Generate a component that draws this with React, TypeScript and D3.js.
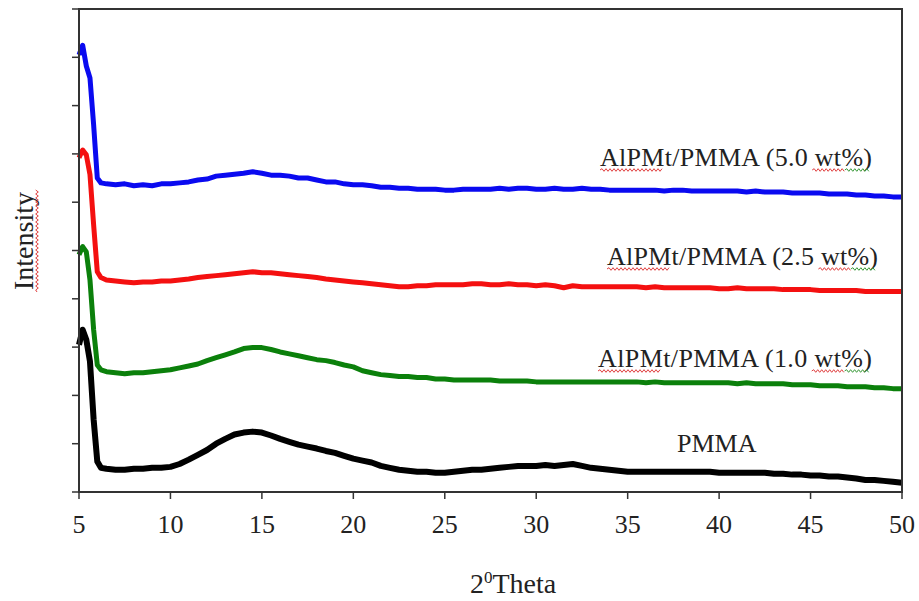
import React from "react";
import * as d3 from "d3";

// 2-theta positions (deg) shared by all patterns
const theta = [
  5, 5.2, 5.4, 5.6, 5.8, 6, 6.2, 6.5,
  7, 7.5, 8, 8.5, 9, 9.5, 10, 10.5, 11, 11.5,
  12, 12.5, 13, 13.5, 14, 14.5, 15, 15.5, 16, 16.5,
  17, 17.5, 18, 18.5, 19, 19.5, 20, 20.5, 21, 21.5,
  22, 22.5, 23, 23.5, 24, 24.5, 25, 25.5, 26, 26.5,
  27, 27.5, 28, 28.5, 29, 29.5, 30, 30.5, 31, 31.5,
  32, 32.5, 33, 33.5, 34, 34.5, 35, 35.5, 36, 36.5,
  37, 37.5, 38, 38.5, 39, 39.5, 40, 40.5, 41, 41.5,
  42, 42.5, 43, 43.5, 44, 44.5, 45, 45.5, 46, 46.5,
  47, 47.5, 48, 48.5, 49, 49.5, 50,
];

// intensities (a.u., curves already offset as in the figure)
const wt50 = [
  905, 925, 882, 857, 760, 650, 640, 638,
  636, 638, 634, 636, 634, 638, 638, 640, 642, 646,
  648, 654, 656, 658, 660, 663, 660, 656, 656, 654,
  650, 650, 646, 642, 642, 638, 636, 636, 634, 631,
  631, 629, 629, 627, 627, 627, 625, 625, 627, 627,
  627, 627, 629, 627, 629, 629, 627, 627, 629, 627,
  627, 629, 627, 627, 625, 625, 625, 625, 625, 625,
  623, 625, 625, 623, 623, 623, 623, 623, 623, 621,
  623, 621, 621, 621, 619, 619, 619, 619, 617, 617,
  617, 615, 615, 613, 613, 611, 611,
];
const wt25 = [
  692, 708, 698, 657, 553, 456, 444, 439,
  437, 435, 433, 435, 435, 437, 437, 439, 441, 444,
  446, 448, 450, 452, 454, 456, 454, 454, 452, 450,
  448, 446, 444, 441, 439, 437, 435, 433, 431, 429,
  427, 425, 425, 427, 427, 429, 429, 429, 429, 431,
  431, 429, 429, 431, 429, 429, 427, 429, 427, 423,
  427, 425, 425, 425, 425, 425, 425, 425, 423, 425,
  423, 423, 423, 423, 423, 423, 421, 421, 423, 421,
  421, 421, 421, 419, 419, 419, 419, 417, 417, 417,
  417, 417, 415, 415, 415, 415, 415,
];
const wt10 = [
  491, 508, 497, 439, 336, 263, 253, 249,
  247, 245, 247, 247, 249, 251, 253, 257, 261, 265,
  272, 278, 284, 290, 297, 299, 299, 295, 290, 286,
  282, 278, 274, 272, 268, 263, 259, 251, 247, 243,
  241, 239, 239, 237, 237, 234, 234, 232, 232, 232,
  232, 232, 230, 230, 230, 230, 228, 228, 228, 228,
  228, 228, 228, 228, 228, 228, 228, 228, 226, 228,
  226, 226, 226, 226, 226, 226, 226, 226, 224, 226,
  224, 224, 224, 224, 222, 222, 222, 220, 220, 220,
  218, 218, 218, 216, 216, 214, 214,
];
const pmma = [
  305, 336, 315, 270, 150, 63, 50, 48,
  46, 46, 48, 48, 50, 50, 52, 58, 67, 77,
  87, 100, 110, 119, 123, 125, 123, 117, 110, 104,
  98, 94, 90, 85, 81, 75, 69, 65, 61, 54,
  50, 46, 44, 42, 42, 40, 40, 42, 44, 46,
  46, 48, 50, 52, 54, 54, 54, 56, 54, 56,
  58, 54, 50, 48, 46, 44, 42, 42, 42, 42,
  42, 42, 42, 42, 42, 42, 40, 40, 40, 40,
  40, 40, 38, 38, 36, 36, 34, 34, 32, 32,
  30, 28, 25, 25, 23, 21, 19,
];

const seriesNames = ["AlPMt/PMMA (5.0 wt%)", "AlPMt/PMMA (2.5 wt%)", "AlPMt/PMMA (1.0 wt%)", "PMMA"];
const xTicks = [5, 10, 15, 20, 25, 30, 35, 40, 45, 50];
const yTicks = [0, 100, 200, 300, 400, 500, 600, 700, 800, 900, 1000];

const W = 919;
const H = 601;
const FONT = "Liberation Serif";

// little squiggle like a spell-check underline
function wave(x0: number, x1: number, y: number) {
  const p = d3.path();
  p.moveTo(x0, y);
  let up = true;
  for (let x = x0 + 2; x <= x1; x += 2) {
    p.lineTo(x, y + (up ? -1.3 : 1.3));
    up = !up;
  }
  return p.toString();
}

function App() {
  const x = d3.scaleLinear().domain([5, 50]).range([79, 902]);
  const y = d3.scaleLinear().domain([0, 1000]).range([492, 9]);

  const line = d3
    .line<number>()
    .x((_, i) => x(theta[i]))
    .y((d) => y(d));

  const series = [
    { name: seriesNames[0], values: wt50, color: "#0a0af0", width: 5 },
    { name: seriesNames[1], values: wt25, color: "#f41010", width: 5 },
    { name: seriesNames[2], values: wt10, color: "#0b800b", width: 5 },
    { name: seriesNames[3], values: pmma, color: "#000", width: 6 },
  ];

  // label placement: left x, baseline y, width
  const labels = [
    { tx: 600, ty: 166, len: 272 },
    { tx: 607, ty: 265, len: 271 },
    { tx: 598, ty: 367, len: 274 },
    { tx: 677, ty: 452, len: 0 },
  ];

  const textStyle = { fontFamily: FONT };

  return (
    <svg
      width={W}
      height={H}
      style={{ position: "absolute", left: 0, top: 0, background: "#fff", fontFamily: FONT }}
    >
      {series.map((s) => (
        <path
          key={s.name}
          d={line(s.values) || ""}
          fill="none"
          stroke={s.color}
          strokeWidth={s.width}
          strokeLinejoin="round"
        />
      ))}

      {/* frame */}
      <rect x={79} y={9} width={823} height={483} fill="none" stroke="#333" strokeWidth={2} />

      {yTicks.map((t) => (
        <line key={t} x1={72} x2={79} y1={y(t)} y2={y(t)} stroke="#333" strokeWidth={1.5} />
      ))}
      {xTicks.map((t) => (
        <g key={t}>
          <line x1={x(t)} x2={x(t)} y1={492} y2={499} stroke="#333" strokeWidth={1.5} />
          <text x={x(t)} y={533} textAnchor="middle" fontSize={26} fill="#222" style={textStyle}>
            {t}
          </text>
        </g>
      ))}

      <text x={470} y={593} fontSize={28} fill="#222" style={textStyle}>
        2<tspan dy={-10} fontSize={17}>0</tspan>
        <tspan dy={10}>Theta</tspan>
      </text>

      <g transform="translate(33,241) rotate(-90)">
        <text x={0} y={0} textAnchor="middle" fontSize={28} fill="#222" style={textStyle}>
          Intensity
        </text>
        <path d={wave(-51, 51, 4)} fill="none" stroke="#e04040" strokeWidth={1} />
      </g>

      {series.map((s, i) => {
        const l = labels[i];
        const isBlend = l.len > 0;
        return (
          <g key={s.name} transform={`translate(${l.tx},${l.ty})`}>
            <text
              x={0}
              y={0}
              fontSize={26}
              fill="#222"
              style={textStyle}
              textLength={isBlend ? l.len : undefined}
              lengthAdjust={isBlend ? "spacing" : undefined}
            >
              {s.name}
            </text>
            {isBlend && (
              <>
                <path d={wave(0, l.len * 0.23, 4)} fill="none" stroke="#e04040" strokeWidth={1} />
                <path d={wave(l.len * 0.78, l.len * 0.9, 4)} fill="none" stroke="#e04040" strokeWidth={1} />
                <path d={wave(l.len * 0.9, l.len * 0.99, 4)} fill="none" stroke="#3a9a3a" strokeWidth={1} />
              </>
            )}
          </g>
        );
      })}
    </svg>
  );
}

export default App;
